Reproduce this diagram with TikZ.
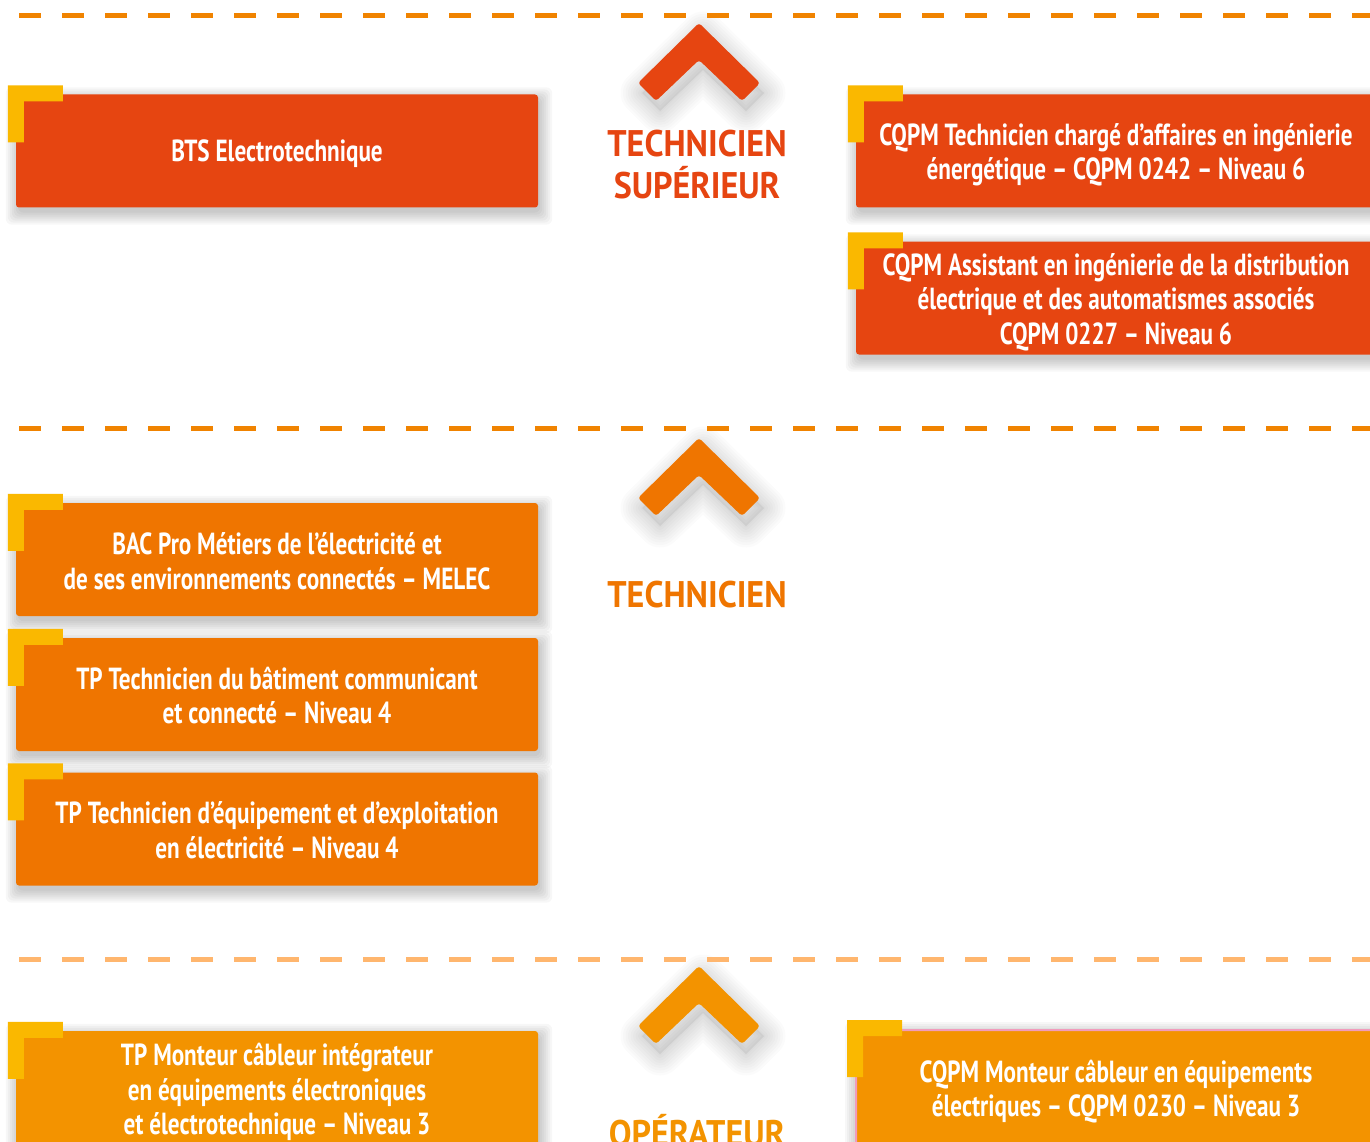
\documentclass[tikz,border=0pt]{standalone}
\usepackage{fontspec}
\setmainfont{PT Sans}
\newfontfamily\boxfont[FakeStretch=0.76]{PT Sans}
\newfontfamily\headfont[FakeStretch=0.92]{PT Sans}
\usetikzlibrary{calc}
\pgfdeclarelayer{back}
\pgfdeclarelayer{shade}
\pgfsetlayers{back,shade,main}
\definecolor{cRed}{HTML}{E64511}
\definecolor{cOrange}{HTML}{EF7500}
\definecolor{cAmber}{HTML}{F39300}
\definecolor{cYel}{HTML}{FAB800}
\definecolor{cDash}{HTML}{F08300}
\definecolor{cDashL}{HTML}{FFB66E}
\definecolor{cPink}{HTML}{F19CBC}
\tikzset{
  x=1pt, y=-1pt,
  dashline/.style={line width=5pt, dash pattern=on 22pt off 21pt},
  qbox/.style={rectangle, rounded corners=3pt, minimum width=522pt, minimum height=113pt, inner sep=0pt},
  qtext/.style={inner sep=0pt, align=center, text=white, font=\boxfont\bfseries\fontsize{30.5}{34.5}\selectfont},
  level/.style={font=\headfont\bfseries\fontsize{37}{41}\selectfont, inner sep=0pt, anchor=base},
  shadowpiece/.style={black, opacity=0.03, rounded corners=6pt}
}
\newcommand{\ycorner}[1]{\fill[cYel, shift={(#1.north west)}] (-8,-9) -- (47,-9) -- (47,7) -- (8,7) -- (8,48) -- (-8,48) -- cycle;}
\newcommand{\softshadow}[1]{\foreach \e in {0,2,...,12} {\fill[shadowpiece] ($(#1.north west)+(-\e+2,-\e+5)$) rectangle ($(#1.south east)+(\e+2,\e+5)$);}}
\newcommand{\chevpath}[2]{(#1,#2) -- (#1+61,#2+60) -- (#1+43,#2+78) -- (#1,#2+37) -- (#1-43,#2+78) -- (#1-61,#2+60) -- cycle}
\newcommand{\chevronat}[3]{%
  \begin{pgfonlayer}{shade}
  \fill[black, opacity=0.05, shift={(4,10)}] \chevpath{#1}{#2};
  \foreach \w in {3,8,...,43} {\draw[black, opacity=0.014, line width=\w pt, line join=round, shift={(4,10)}] \chevpath{#1}{#2};}
  \end{pgfonlayer}
  \fill[#3, rounded corners=3pt] \chevpath{#1}{#2};}
\begin{document}
\begin{tikzpicture}
\useasboundingbox (0,0) rectangle (1370,1142);
\begin{pgfonlayer}{back}
\fill[white] (0,0) rectangle (1370,1142);
\end{pgfonlayer}
% dashed separators
\coordinate (d1a) at (19,16); \coordinate (d1b) at (1380,16);
\coordinate (d2a) at (19,428); \coordinate (d2b) at (1380,428);
\coordinate (d3a) at (19,959); \coordinate (d3b) at (1380,959);
\draw[dashline, cDash] (d1a) -- (d1b);
\draw[dashline, cDash] (d2a) -- (d2b);
\draw[dashline, cDashL] (d3a) -- (d3b);
% chevrons
\chevronat{699}{23}{cRed}
\chevronat{699}{438}{cOrange}
\chevronat{699}{966}{cAmber}
% level labels
\node[level, text=cRed] (lvl1a) at (697,157) {TECHNICIEN};
\node[level, text=cRed] (lvl1b) at (697,199) {SUPÉRIEUR};
\node[level, text=cOrange] (lvl2) at (697,607) {TECHNICIEN};
\node[level, text=cAmber] (lvl3) at (697,1146) {OPÉRATEUR};
% top level boxes
\node[qbox, fill=cRed] (bts) at (277,151) {};
\node[qtext] (btsT) at (277,154) {BTS Electrotechnique};
\node[qbox, fill=cRed, minimum width=520pt] (cq242) at (1116,151) {};
\node[qtext] (cq242T) at (1116,155) {CQPM Technicien chargé d’affaires en ingénierie\\énergétique – CQPM 0242 – Niveau 6};
\node[qbox, fill=cRed, minimum width=520pt] (cq227) at (1116,298) {};
\node[qtext] (cq227T) at (1116,302) {CQPM Assistant en ingénierie de la distribution\\électrique et des automatismes associés\\CQPM 0227 – Niveau 6};
% middle level boxes
\node[qbox, fill=cOrange] (melec) at (277,559.5) {};
\node[qtext] (melecT) at (277,561) {BAC Pro Métiers de l’électricité et\\de ses environnements connectés – MELEC};
\node[qbox, fill=cOrange] (tpbat) at (277,694.5) {};
\node[qtext] (tpbatT) at (277,695.5) {TP Technicien du bâtiment communicant\\et connecté – Niveau 4};
\node[qbox, fill=cOrange] (tpeq) at (277,829) {};
\node[qtext] (tpeqT) at (277,830) {TP Technicien d’équipement et d’exploitation\\en électricité – Niveau 4};
% bottom level boxes
\node[qbox, fill=cAmber, minimum height=118pt] (tpmont) at (277,1090) {};
\node[qtext] (tpmontT) at (277,1092) {TP Monteur câbleur intégrateur\\en équipements électroniques\\et électrotechnique – Niveau 3};
\node[qbox, fill=cAmber, minimum height=118pt, minimum width=520pt, draw=cPink, line width=2pt] (cq230) at (1116,1089) {};
\node[qtext] (cq230T) at (1116,1091.5) {CQPM Monteur câbleur en équipements\\électriques – CQPM 0230 – Niveau 3};
% shadows
\begin{pgfonlayer}{shade}
\softshadow{bts}
\softshadow{cq242}
\softshadow{cq227}
\softshadow{melec}
\softshadow{tpbat}
\softshadow{tpeq}
\softshadow{tpmont}
\softshadow{cq230}
\end{pgfonlayer}
% yellow corners
\ycorner{bts}
\ycorner{cq242}
\ycorner{cq227}
\ycorner{melec}
\ycorner{tpbat}
\ycorner{tpeq}
\ycorner{tpmont}
\ycorner{cq230}
\end{tikzpicture}
\end{document}
